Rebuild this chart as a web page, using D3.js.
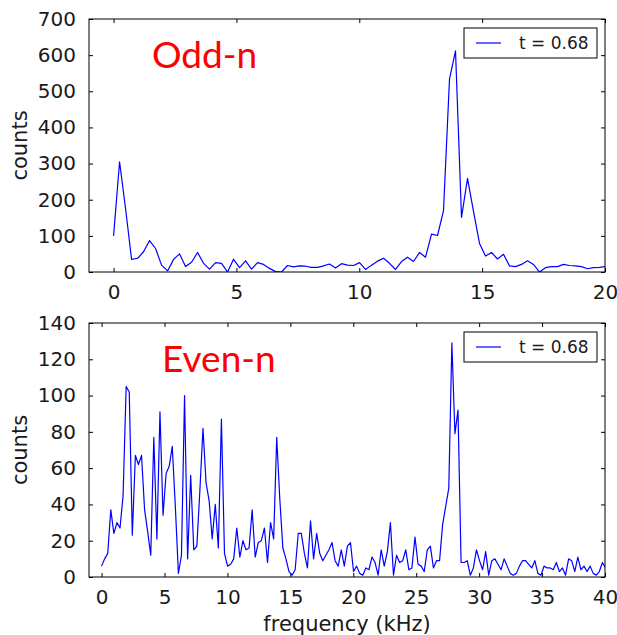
<!DOCTYPE html>
<html>
<head>
<meta charset="utf-8">
<script src="https://cdn.jsdelivr.net/npm/d3@7"></script>
<style>
	body { margin: 0; background: #fff; }
	svg text { font-family: "DejaVu Sans", sans-serif; fill: #1a1a1a; }
</style>
</head>
<body>
<div id="chart"></div>
<script>
// sample spacing of the spectrum (kHz)
const freqStep = 0.244140625

// counts per frequency bin, odd-n harmonics
const oddCounts = [
	100, 305, 175, 35, 38, 56, 87, 65, 19, 3,
	35, 50, 15, 27, 54, 24, 8, 26, 24, 0,
	35, 12, 31, 8, 26, 21, 10, 1, 0, 18,
	14, 17, 16, 13, 13, 17, 22, 11, 23, 19,
	18, 26, 7, 19, 30, 38, 24, 7, 29, 41,
	29, 54, 41, 105, 101, 170, 534, 612, 151, 259,
	168, 79, 44, 54, 36, 49, 17, 15, 21, 31,
	21, 0, 12, 15, 15, 21, 18, 17, 15, 9,
	12, 13, 15,
]

// counts per frequency bin, even-n harmonics
const evenCounts = [
	6, 10, 13, 37, 24, 30, 27, 45, 105, 102,
	23, 67, 62, 67, 37, 25, 12, 77, 21, 91,
	34, 57, 61, 72, 39, 2, 12, 100, 10, 56,
	15, 17, 48, 82, 52, 42, 21, 40, 16, 87,
	13, 6, 7, 10, 27, 11, 20, 15, 16, 37,
	11, 19, 20, 27, 8, 30, 21, 77, 43, 16,
	10, 3, 1, 4, 24, 24, 13, 5, 31, 10,
	24, 13, 9, 12, 15, 19, 9, 6, 15, 6,
	17, 19, 3, 6, 2, 1, 5, 4, 11, 8,
	1, 15, 6, 14, 30, 1, 12, 8, 9, 15,
	4, 5, 22, 7, 6, 3, 15, 17, 5, 9,
	9, 29, 39, 49, 129, 79, 92, 8, 8, 9,
	1, 5, 15, 9, 4, 14, 1, 9, 10, 7,
	4, 10, 6, 2, 1, 2, 6, 9, 9, 7,
	5, 9, 2, 1, 6, 5, 5, 4, 8, 3,
	5, 1, 10, 9, 3, 11, 4, 6, 3, 6,
	2, 1, 3, 8, 5,
]

const oddXTicks = [0, 5, 10, 15, 20]
const oddYTicks = [0, 100, 200, 300, 400, 500, 600, 700]
const evenXTicks = [0, 5, 10, 15, 20, 25, 30, 35, 40]
const evenYTicks = [0, 20, 40, 60, 80, 100, 120, 140]

const legendLabel = "t = 0.68"
const yLabel = "counts"
const xLabel = "frequency (kHz)"

const width = 617
const height = 635

const svg = d3.select("#chart")
	.append("svg")
	.attr("width", width)
	.attr("height", height)

function drawPanel(opts) {
	const { id, counts, xDomain, yDomain, xTicks, yTicks, top, bottom, title, titleX } = opts
	const left = 89
	const right = 605

	const x = d3.scaleLinear().domain(xDomain).range([left, right])
	const y = d3.scaleLinear().domain(yDomain).range([bottom, top])

	const g = svg.append("g").attr("class", `panel ${id}`)

	g.append("defs")
		.append("clipPath")
		.attr("id", `clip-${id}`)
		.append("rect")
		.attr("x", left)
		.attr("y", top)
		.attr("width", right - left)
		.attr("height", bottom - top)

	// ticks point inward on all four sides
	const styleAxis = (sel) => {
		sel.select(".domain").remove()
		sel.selectAll(".tick line").attr("stroke", "#000").attr("stroke-width", 1)
		sel.selectAll(".tick text").style("font-size", "20px").attr("fill", "#1a1a1a")
	}

	g.append("g")
		.attr("transform", `translate(0,${bottom})`)
		.call(d3.axisBottom(x).tickValues(xTicks).tickSize(-4).tickPadding(13).tickFormat(d3.format("d")))
		.call(styleAxis)

	g.append("g")
		.attr("transform", `translate(0,${top})`)
		.call(d3.axisTop(x).tickValues(xTicks).tickSize(-4).tickFormat(""))
		.call(styleAxis)

	g.append("g")
		.attr("transform", `translate(${left},0)`)
		.call(d3.axisLeft(y).tickValues(yTicks).tickSize(-4).tickPadding(13).tickFormat(d3.format("d")))
		.call(styleAxis)

	g.append("g")
		.attr("transform", `translate(${right},0)`)
		.call(d3.axisRight(y).tickValues(yTicks).tickSize(-4).tickFormat(""))
		.call(styleAxis)

	const line = d3.line()
		.x((d, i) => x(i * freqStep))
		.y((d) => y(d))

	g.append("path")
		.datum(counts)
		.attr("clip-path", `url(#clip-${id})`)
		.attr("fill", "none")
		.attr("stroke", "#0000ff")
		.attr("stroke-width", 1.2)
		.attr("stroke-linejoin", "round")
		.attr("d", line)

	// frame
	g.append("rect")
		.attr("x", left)
		.attr("y", top)
		.attr("width", right - left)
		.attr("height", bottom - top)
		.attr("fill", "none")
		.attr("stroke", "#000")
		.attr("stroke-width", 1)

	g.append("text")
		.attr("x", titleX)
		.attr("y", top + 49)
		.style("font-family", "Lato, 'Liberation Sans', sans-serif")
		.style("font-size", "37px")
		.style("fill", "#ff0000")
		.text(title)

	// legend
	const legend = g.append("g")
		.attr("transform", `translate(464,${top + 9})`)

	legend.append("rect")
		.attr("width", 133)
		.attr("height", 30)
		.attr("fill", "#fff")
		.attr("stroke", "#000")
		.attr("stroke-width", 1)

	legend.append("line")
		.attr("x1", 12)
		.attr("x2", 37)
		.attr("y1", 15)
		.attr("y2", 15)
		.attr("stroke", "#0000ff")
		.attr("stroke-width", 1.2)

	legend.append("text")
		.attr("x", 55)
		.attr("y", 21)
		.style("font-size", "17px")
		.text(legendLabel)

	g.append("text")
		.attr("transform", `translate(27,${(top + bottom) / 2}) rotate(-90)`)
		.attr("text-anchor", "middle")
		.style("font-size", "21px")
		.text(yLabel)
}

drawPanel({
	id: "odd",
	counts: oddCounts,
	xDomain: [-1, 20],
	yDomain: [0, 700],
	xTicks: oddXTicks,
	yTicks: oddYTicks,
	top: 19,
	bottom: 272,
	title: "Odd-n",
	titleX: 152,
})

drawPanel({
	id: "even",
	counts: evenCounts,
	xDomain: [-1, 40],
	yDomain: [0, 140],
	xTicks: evenXTicks,
	yTicks: evenYTicks,
	top: 323,
	bottom: 577,
	title: "Even-n",
	titleX: 162,
})

svg.append("text")
	.attr("x", 347)
	.attr("y", 631)
	.attr("text-anchor", "middle")
	.style("font-size", "21px")
	.text(xLabel)
</script>
</body>
</html>
